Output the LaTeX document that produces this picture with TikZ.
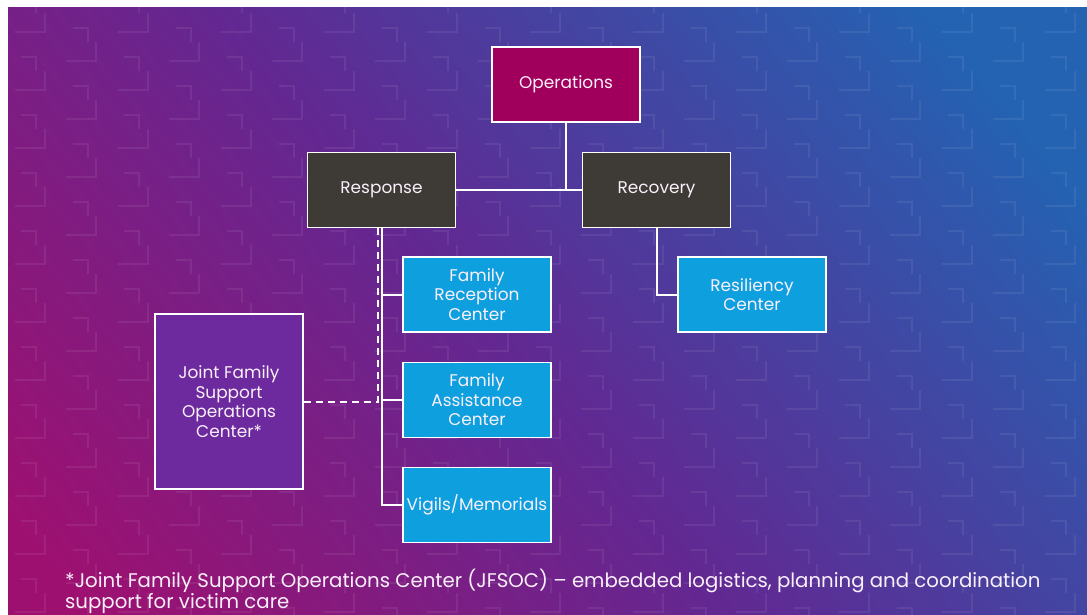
\documentclass[tikz,border=0pt]{standalone}
\usepackage{fontspec}
\setmainfont{Poppins}
\definecolor{cmag}{RGB}{158,16,112}
\definecolor{cpur}{RGB}{98,40,146}
\definecolor{cblu}{RGB}{36,98,178}
\definecolor{opsfill}{RGB}{160,0,92}
\definecolor{grayfill}{RGB}{62,58,54}
\definecolor{bluefill}{RGB}{14,160,222}
\definecolor{purfill}{RGB}{108,42,158}
\definecolor{txt}{RGB}{250,240,250}
\pgfdeclareverticalshading{bgshade}{100bp}{color(0bp)=(cmag); color(18bp)=(cmag); color(47bp)=(cpur); color(78bp)=(cblu); color(100bp)=(cblu)}
\tikzset{
  pat/.style={white, opacity=0.07, line width=2.5bp},
  motif/.pic={\draw[pat] (0,0) -- (15,0) -- (15,14); \draw[pat] (45,4) -- (75,4) -- (75,-15);},
  box/.style={draw=white, line width=1.8bp, minimum width=148bp, minimum height=75bp, inner sep=2bp, text=txt, align=center, font=\fontsize{17}{19.5}\selectfont},
  opsbox/.style={box, fill=opsfill},
  graybox/.style={box, fill=grayfill},
  bluebox/.style={box, fill=bluefill},
  jbox/.style={box, fill=purfill, minimum height=175bp},
  link/.style={draw=white, line width=2bp},
  dlink/.style={draw=white, line width=2bp, dash pattern=on 7bp off 5bp}
}
\begin{document}
\begin{tikzpicture}[x=1bp,y=-1bp]
\useasboundingbox (0,0) rectangle (1087,615);
\fill[white] (0,0) rectangle (1087,615);
\begin{scope}
\clip (8,8) rectangle (1087,615);
\shade[shading=bgshade, shading angle=-50] (8,8) rectangle (1087,615);
\foreach \i in {0,...,11}{
  \foreach \j in {0,...,11}{
    \pgfmathsetmacro\xa{\i*103-30}
    \pgfmathsetmacro\ya{\j*58-30}
    \pic at (\xa,\ya) {motif};
    \pic at (\xa+51,\ya+29) {motif};
  }
}
\end{scope}

\node[opsbox] (ops) at (566,84.5) {Operations};
\node[graybox] (resp) at (381.5,190) {Response};
\node[graybox] (rec) at (656.5,190) {Recovery};
\node[bluebox] (frc) at (477,294.5) {Family\\Reception\\Center};
\node[bluebox] (fac) at (477,400) {Family\\Assistance\\Center};
\node[bluebox] (vig) at (477,505) {Vigils/Memorials};
\node[jbox] (jf) at (229,401.5) {Joint Family\\Support\\Operations\\Center*};
\node[bluebox] (res) at (752,294.5) {Resiliency\\Center};

\draw[link] (resp.east) -- (rec.west);
\draw[link] (ops.south) -- (ops.south |- resp.east);
\draw[dlink] ([xshift=-4bp]resp.south) |- (jf.east);
\draw[link] (resp.south) -- (resp.south |- vig.west) -- (vig.west);
\draw[link] (resp.south |- frc.west) -- (frc.west);
\draw[link] (resp.south |- fac.west) -- (fac.west);
\draw[link] (rec.south) |- (res.west);

\node[anchor=north west, text=txt, align=left, inner sep=0, font=\fontsize{19.8}{21}\selectfont] (note) at (65,569) {*Joint Family Support Operations Center (JFSOC) – embedded logistics, planning and coordination\\support for victim care};
\end{tikzpicture}
\end{document}
